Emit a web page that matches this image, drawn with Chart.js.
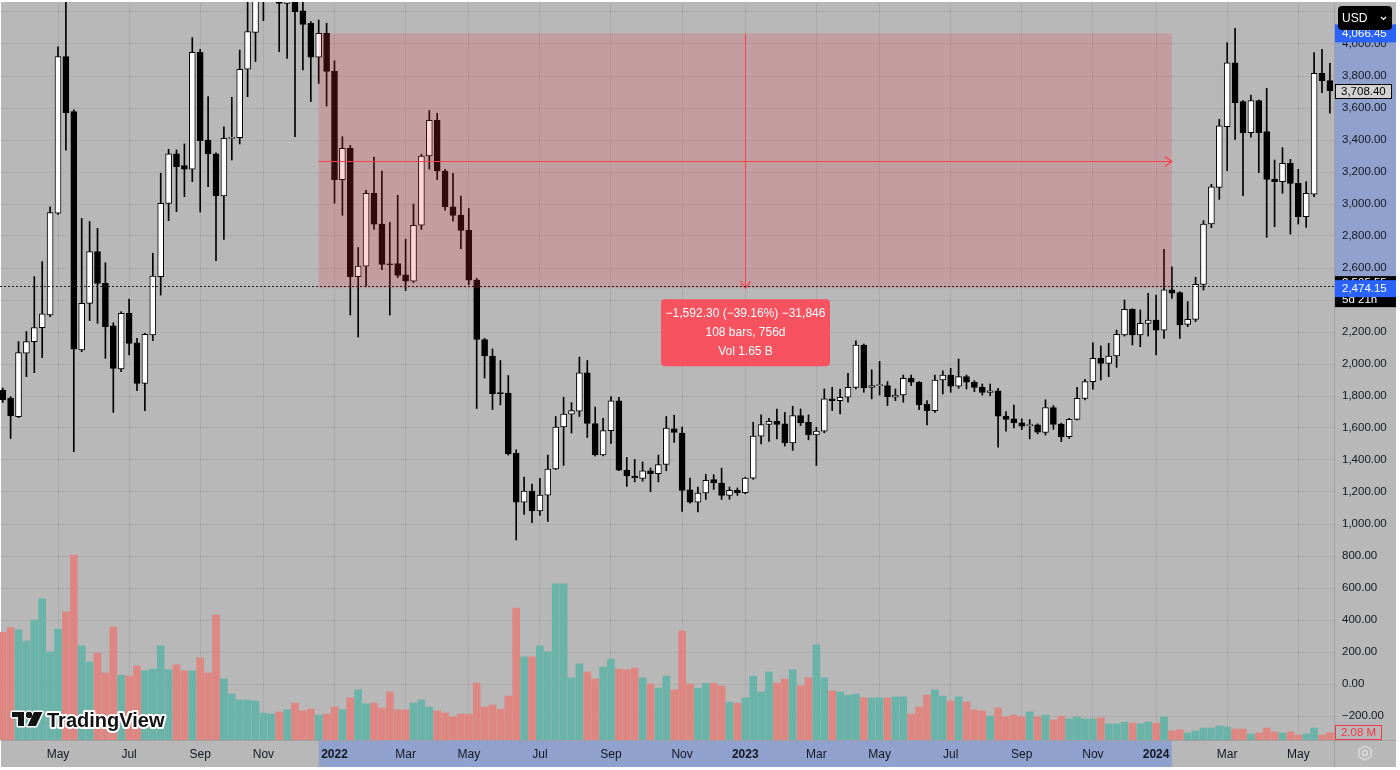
<!DOCTYPE html>
<html>
<head>
<meta charset="utf-8">
<style>
  html, body { margin: 0; padding: 0; background: #ffffff; overflow: hidden; }
  #wrap { width: 1400px; height: 770px; }
</style>
<script src="https://cdn.jsdelivr.net/npm/chart.js@4.4.1/dist/chart.umd.min.js"></script>
</head>
<body>
<div id="wrap"><canvas id="chart" width="1400" height="770"></canvas></div>
<script>
// weekly ETH candles (bar 0 = week of 15 Mar 2021)
const openP = [
  1837, 1785, 1671, 2067, 2140, 2227, 2306, 2942, 3921, 3577, 2088, 2379,
  2702, 2504, 2238, 1969, 2317, 2133, 1879, 2181, 2546, 3004, 3313, 3240,
  3217, 3948, 3400, 3313, 3050, 3410, 3415, 3842, 4073, 4290, 4610, 4640,
  4254, 4440, 4208, 4129, 3917, 4066, 3829, 3152, 3348, 2546, 2612, 3066,
  2874, 2623, 2627, 2557, 2518, 2867, 3300, 3523, 3206, 2983, 2929, 2835,
  2524, 2153, 2050, 1818, 1818, 1442, 1136, 1206, 1081, 1180, 1344, 1606,
  1687, 1705, 1945, 1628, 1431, 1584, 1770, 1337, 1300, 1285, 1333, 1315,
  1372, 1595, 1568, 1214, 1137, 1194, 1277, 1256, 1179, 1210, 1196, 1287,
  1549, 1622, 1642, 1626, 1507, 1678, 1636, 1557, 1580, 1782, 1771, 1792,
  1854, 2118, 1854, 1865, 1865, 1792, 1806, 1910, 1886, 1750, 1709, 1900,
  1931, 1861, 1921, 1886, 1854, 1823, 1833, 1674, 1657, 1632, 1615, 1620,
  1572, 1727, 1625, 1546, 1654, 1785, 1890, 2035, 2004, 2050, 2181, 2342,
  2181, 2254, 2275, 2212, 2463, 2446, 2248, 2279, 2498, 2875, 3104, 3483,
  3883, 3640, 3446, 3646, 3452, 3154, 3140, 3254, 3129, 2921, 3062, 3817,
  3771
];
const highP = [
  1850, 1796, 2140, 2202, 2546, 2640, 2983, 3983, 4380, 3588, 2910, 2890,
  2848, 2633, 2258, 2327, 2406, 2160, 2192, 2692, 3192, 3342, 3338, 3375,
  4040, 3967, 3671, 3320, 3483, 3667, 3962, 4300, 4380, 4660, 4870, 4770,
  4560, 4650, 4400, 4140, 4150, 4130, 3895, 3421, 3366, 2728, 3086, 3294,
  3206, 2885, 3055, 2780, 2999, 3311, 3584, 3567, 3217, 3191, 3049, 2972,
  2535, 2160, 2094, 2022, 1928, 1464, 1294, 1250, 1285, 1431, 1672, 1792,
  1759, 2043, 2022, 1731, 1661, 1796, 1792, 1416, 1403, 1388, 1350, 1431,
  1672, 1680, 1605, 1287, 1231, 1310, 1308, 1349, 1231, 1225, 1293, 1636,
  1682, 1661, 1719, 1698, 1736, 1719, 1682, 1605, 1844, 1854, 1844, 1942,
  2145, 2125, 1964, 2016, 1890, 1844, 1931, 1931, 1890, 1771, 1931, 1958,
  1973, 2031, 1931, 1896, 1875, 1875, 1848, 1703, 1744, 1657, 1653, 1626,
  1776, 1740, 1630, 1660, 1854, 1904, 2133, 2113, 2129, 2212, 2400, 2345,
  2338, 2442, 2431, 2717, 2608, 2452, 2390, 2542, 2896, 3123, 3529, 4008,
  4098, 3646, 3681, 3650, 3723, 3275, 3352, 3279, 3217, 3140, 3946, 3967,
  3879
];
const lowP = [
  1760, 1535, 1665, 1921, 1946, 2040, 2296, 2935, 3337, 1452, 2077, 2271,
  2254, 2036, 1698, 1952, 2056, 1833, 1708, 2146, 2431, 2896, 2952, 3046,
  3140, 2950, 3108, 2646, 2779, 3275, 3375, 3671, 3890, 4146, 4510, 3952,
  3910, 3421, 3838, 3640, 3754, 3612, 3005, 2929, 2306, 2168, 2487, 2841,
  2590, 2306, 2540, 2459, 2509, 2841, 3217, 3152, 2961, 2892, 2721, 2496,
  1722, 1912, 1715, 1744, 1431, 900, 1060, 1009, 1053, 1016, 1340, 1366,
  1569, 1672, 1541, 1425, 1425, 1503, 1333, 1235, 1263, 1267, 1202, 1263,
  1333, 1510, 1079, 1130, 1075, 1154, 1216, 1154, 1154, 1179, 1189, 1279,
  1501, 1516, 1532, 1487, 1460, 1615, 1526, 1366, 1570, 1709, 1688, 1761,
  1844, 1823, 1782, 1806, 1740, 1771, 1761, 1865, 1715, 1620, 1698, 1813,
  1823, 1848, 1844, 1827, 1806, 1802, 1480, 1580, 1601, 1590, 1532, 1563,
  1556, 1592, 1515, 1535, 1650, 1775, 1842, 1900, 1921, 1979, 2175, 2119,
  2108, 2175, 2056, 2160, 2410, 2160, 2233, 2265, 2462, 2852, 3029, 3208,
  3404, 3052, 3417, 3196, 2792, 2858, 3067, 2812, 2875, 2854, 3046, 3696,
  3567
];
const closeP = [
  1775, 1675, 2071, 2140, 2227, 2313, 2946, 3921, 3571, 2092, 2379, 2702,
  2504, 2233, 1973, 2317, 2129, 1879, 2186, 2550, 3004, 3313, 3233, 3217,
  3948, 3396, 3313, 3050, 3410, 3415, 3842, 4077, 4290, 4610, 4640, 4254,
  4440, 4202, 4123, 3917, 4066, 3829, 3152, 3348, 2546, 2612, 3066, 2874,
  2623, 2620, 2553, 2518, 2867, 3300, 3523, 3206, 2983, 2929, 2835, 2524,
  2153, 2050, 1814, 1815, 1438, 1136, 1206, 1081, 1180, 1344, 1606, 1687,
  1709, 1945, 1628, 1431, 1584, 1770, 1337, 1300, 1289, 1333, 1315, 1372,
  1600, 1573, 1210, 1137, 1194, 1273, 1256, 1179, 1210, 1196, 1287, 1549,
  1622, 1642, 1622, 1507, 1678, 1632, 1557, 1580, 1782, 1771, 1792, 1854,
  2118, 1850, 1865, 1866, 1796, 1806, 1910, 1886, 1744, 1709, 1900, 1931,
  1861, 1921, 1886, 1854, 1823, 1833, 1674, 1653, 1632, 1611, 1620, 1574,
  1727, 1622, 1546, 1654, 1785, 1890, 2035, 2004, 2050, 2185, 2342, 2181,
  2254, 2275, 2212, 2463, 2442, 2244, 2279, 2498, 2875, 3108, 3488, 3883,
  3633, 3446, 3646, 3446, 3154, 3140, 3254, 3129, 2921, 3067, 3817, 3771,
  3708.4
];
// weekly volume, millions
const volumeM = [
  30.7, 32.0, 31.4, 28.2, 34.2, 40.2, 25.1, 31.6, 36.5, 52.7, 26.8, 22.2,
  24.8, 19.1, 32.2, 18.5, 18.2, 21.1, 19.7, 20.2, 26.8, 20.0, 21.4, 19.7,
  19.7, 23.4, 19.1, 35.6, 17.4, 13.1, 11.4, 11.4, 11.1, 7.7, 7.4, 8.0,
  8.6, 10.5, 8.3, 8.8, 7.1, 7.4, 9.4, 8.6, 12.0, 14.3, 10.3, 10.5,
  9.1, 13.7, 8.6, 8.6, 10.5, 11.4, 9.4, 8.3, 7.7, 6.6, 7.4, 7.4,
  16.2, 9.4, 10.0, 8.8, 12.5, 37.6, 23.7, 23.7, 26.8, 25.1, 44.5, 44.5,
  17.7, 21.7, 19.4, 17.4, 20.8, 23.1, 20.2, 20.0, 20.5, 17.7, 16.0, 14.8,
  18.2, 14.3, 31.1, 16.0, 14.8, 16.2, 16.2, 15.4, 10.8, 10.5, 12.0, 18.2,
  13.7, 19.4, 16.2, 17.4, 20.0, 15.4, 17.7, 27.1, 17.7, 14.0, 13.7, 12.8,
  13.1, 12.0, 12.0, 12.0, 12.0, 12.3, 12.3, 7.4, 9.4, 12.8, 14.3, 12.5,
  11.1, 12.3, 10.8, 8.6, 8.3, 6.8, 9.1, 6.6, 7.1, 6.6, 8.0, 6.6,
  7.1, 5.7, 6.8, 6.0, 6.6, 6.0, 6.0, 6.3, 4.6, 4.6, 5.1, 4.8,
  4.6, 5.1, 4.8, 6.6, 2.6, 2.9, 2.0, 2.6, 3.4, 3.4, 4.0, 3.7,
  3.1, 3.1, 1.7, 2.0, 3.4, 2.3, 2.0, 2.3, 1.4, 1.7, 3.4, 1.4,
  2.08
];

// time axis labels sit on the first bar of the month
const monthBars = [7, 16, 25, 33, 42, 51, 59, 68, 77, 86, 94, 103, 111, 120, 129, 138, 146, 155, 164];
const monthLabels = ['May', 'Jul', 'Sep', 'Nov', '2022', 'Mar', 'May', 'Jul', 'Sep', 'Nov',
                     '2023', 'Mar', 'May', 'Jul', 'Sep', 'Nov', '2024', 'Mar', 'May'];
const priceTicks = [-200, 0, 200, 400, 600, 800, 1000, 1200, 1400, 1600, 1800, 2000, 2200,
                    2400, 2600, 2800, 3000, 3200, 3400, 3600, 3800, 4000, 4200];

// price range measure drawn on the chart
const measureFrom = 40;
const measureTo = 148;
const measureTop = 4066.45;
const measureBottom = 2474.15;
const measureText = ['\u22121,592.30 (\u221239.16%) \u221231,846', '108 bars, 756d', 'Vol 1.65 B'];
const crossPrice = 2487;
const lastPrice = 3708.4;
const lastVolume = '2.08 M';

const FONT = '"Liberation Sans", Arial, sans-serif';
const BG = '#b8b8b8';
const BAND = '#8fa1cc';
const UP_VOL = '#6ab3a9';
const DN_VOL = '#de8782';

Chart.defaults.font.family = FONT;

const isUp = (i) => closeP[i] >= openP[i];

const fmtPrice = (v) => {
  const s = Math.abs(v).toLocaleString('en-US', { minimumFractionDigits: 2, maximumFractionDigits: 2 });
  return v < 0 ? '\u2212' + s : s;
};

function roundBox(ctx, x, y, w, h, r) {
  ctx.beginPath();
  if (ctx.roundRect) ctx.roundRect(x, y, w, h, r);
  else ctx.rect(x, y, w, h);
}

const tvPlugin = {
  id: 'tvLook',
  beforeDraw(chart) {
    const { ctx, chartArea: a, scales: { x, y } } = chart;
    ctx.save();
    ctx.fillStyle = '#ffffff';
    ctx.fillRect(0, 0, chart.width, chart.height);
    ctx.fillStyle = BG;
    ctx.fillRect(1, 2, a.right + 62 - 1, a.bottom + 27 - 2);

    // highlighted ranges on both axes
    const yt = y.getPixelForValue(measureTop);
    const yb = y.getPixelForValue(measureBottom);
    const x0 = x.getPixelForValue(measureFrom);
    const x1 = x.getPixelForValue(measureTo);
    ctx.fillStyle = BAND;
    ctx.fillRect(a.right + 1, yt, 61, yb - yt);
    ctx.fillRect(x0, a.bottom + 1, x1 - x0, 26);

    ctx.strokeStyle = 'rgba(0,0,0,0.13)';
    ctx.lineWidth = 1;
    ctx.beginPath();
    ctx.moveTo(a.right + 0.5, 2);
    ctx.lineTo(a.right + 0.5, a.bottom + 27);
    ctx.moveTo(1, a.bottom + 0.5);
    ctx.lineTo(a.right + 62, a.bottom + 0.5);
    ctx.stroke();
    ctx.restore();
  },
  afterDatasetsDraw(chart) {
    const { ctx, chartArea: a, scales: { x, y } } = chart;
    const x0 = x.getPixelForValue(measureFrom);
    const x1 = x.getPixelForValue(measureTo);
    const y0 = y.getPixelForValue(measureTop);
    const y1 = y.getPixelForValue(measureBottom);
    ctx.save();
    ctx.beginPath();
    ctx.rect(a.left, a.top, a.right - a.left, a.bottom - a.top);
    ctx.clip();

    ctx.fillStyle = 'rgba(242,54,69,0.2)';
    ctx.fillRect(x0, y0, x1 - x0, y1 - y0);

    const ym = Math.round((y0 + y1) / 2);
    const xm = Math.round((x0 + x1) / 2);
    ctx.fillStyle = '#f7414f';
    ctx.fillRect(x0, ym, x1 - x0, 1);
    ctx.fillRect(xm, y0, 1, y1 - y0);
    ctx.strokeStyle = '#f7414f';
    ctx.lineWidth = 1.2;
    ctx.beginPath();
    ctx.moveTo(x1 - 7, ym - 4.5); ctx.lineTo(x1, ym + 0.5); ctx.lineTo(x1 - 7, ym + 5.5);
    ctx.moveTo(xm - 4.5, y1 - 7); ctx.lineTo(xm + 0.5, y1); ctx.lineTo(xm + 5.5, y1 - 7);
    ctx.stroke();

    // horizontal crosshair
    const yc = Math.round(y.getPixelForValue(crossPrice)) + 0.5;
    ctx.strokeStyle = '#1c1c1c';
    ctx.lineWidth = 1;
    ctx.setLineDash([2, 2]);
    ctx.beginPath();
    ctx.moveTo(a.left, yc); ctx.lineTo(a.right, yc);
    ctx.stroke();
    ctx.setLineDash([]);

    // info box under the measure
    const bw = 169, bh = 67;
    const bx = xm + 0.5 - bw / 2, by = y1 + 11;
    ctx.fillStyle = '#f7525f';
    roundBox(ctx, bx, by, bw, bh, 4);
    ctx.fill();
    ctx.fillStyle = '#ffffff';
    ctx.font = '12px ' + FONT;
    ctx.textAlign = 'center';
    ctx.textBaseline = 'middle';
    measureText.forEach((t, k) => ctx.fillText(t, xm + 0.5, by + 14.5 + k * 19));
    ctx.restore();
  },
  afterDraw(chart) {
    const { ctx, chartArea: a, scales: { y } } = chart;
    const L = a.right + 1;
    ctx.save();
    ctx.font = '11.5px ' + FONT;
    ctx.textBaseline = 'middle';
    ctx.textAlign = 'left';

    // countdown box + measure end label
    const yb = y.getPixelForValue(measureBottom);
    ctx.fillStyle = '#000000';
    ctx.fillRect(L, yb - 12, 61, 31);
    ctx.fillStyle = '#ffffff';
    ctx.fillText('2,505.55', L + 7, yb - 5);
    ctx.fillText('5d 21h', L + 7, yb + 12);
    ctx.fillStyle = '#2962ff';
    ctx.fillRect(L, yb - 8, 61, 17);
    ctx.fillStyle = '#ffffff';
    ctx.fillText(fmtPrice(measureBottom), L + 7, yb + 0.5);

    // measure start label
    const yt = y.getPixelForValue(measureTop);
    ctx.fillStyle = '#2962ff';
    ctx.fillRect(L, yt - 9, 61, 18);
    ctx.fillStyle = '#ffffff';
    ctx.fillText(fmtPrice(measureTop), L + 7, yt);

    // currency button
    ctx.fillStyle = '#000000';
    roundBox(ctx, L + 3, 6, 54, 24, 4);
    ctx.fill();
    ctx.fillStyle = '#ffffff';
    ctx.font = '12px ' + FONT;
    ctx.fillText('USD', L + 7, 18.5);
    ctx.strokeStyle = '#ffffff';
    ctx.lineWidth = 1.2;
    ctx.beginPath();
    ctx.moveTo(L + 46, 17); ctx.lineTo(L + 48.5, 19.5); ctx.lineTo(L + 51, 17);
    ctx.stroke();

    // last price
    const yl = Math.round(y.getPixelForValue(lastPrice));
    ctx.fillStyle = '#d2d2d2';
    ctx.fillRect(L + 0.5, yl - 6.5, 56, 14);
    ctx.strokeStyle = '#000000';
    ctx.lineWidth = 1;
    ctx.strokeRect(L + 0.5, yl - 6.5, 56, 14);
    ctx.fillStyle = '#000000';
    ctx.font = '11.5px ' + FONT;
    ctx.fillText(fmtPrice(lastPrice), L + 6, yl + 0.5);

    // last volume
    ctx.strokeStyle = '#f23645';
    ctx.strokeRect(L + 0.5, a.bottom - 14.5, 46, 14);
    ctx.fillStyle = '#f23645';
    ctx.textAlign = 'center';
    ctx.fillText(lastVolume, L + 23.5, a.bottom - 7);

    // settings icon
    const gx = L + 30, gy = a.bottom + 13;
    ctx.strokeStyle = '#dcdcdc';
    ctx.lineWidth = 1.4;
    ctx.beginPath();
    for (let k = 0; k < 6; k++) {
      const ang = Math.PI / 6 + k * Math.PI / 3;
      const px = gx + 7 * Math.cos(ang), py = gy + 7 * Math.sin(ang);
      if (k === 0) ctx.moveTo(px, py); else ctx.lineTo(px, py);
    }
    ctx.closePath();
    ctx.stroke();
    ctx.beginPath();
    ctx.arc(gx, gy, 2.5, 0, Math.PI * 2);
    ctx.stroke();

    // watermark logo
    ctx.lineJoin = 'round';
    const logo = new Path2D();
    logo.rect(12, 712, 12, 5);
    logo.rect(18, 712, 6, 14);
    logo.moveTo(34, 712); logo.lineTo(42.5, 712); logo.lineTo(36, 726); logo.lineTo(27.5, 726); logo.closePath();
    const dot = new Path2D();
    dot.arc(29, 715, 3.2, 0, Math.PI * 2);
    ctx.strokeStyle = '#ffffff';
    ctx.lineWidth = 3;
    ctx.stroke(logo);
    ctx.stroke(dot);
    ctx.fillStyle = '#131313';
    ctx.fill(logo);
    ctx.fill(dot);
    ctx.font = 'bold 20px ' + FONT;
    ctx.textAlign = 'left';
    ctx.textBaseline = 'alphabetic';
    ctx.lineWidth = 4;
    ctx.strokeText('TradingView', 47, 727);
    ctx.fillText('TradingView', 47, 727);
    ctx.restore();
  }
};

const bars = openP.map((o, i) => i);

const wickData = bars.map(i => ({ x: i, y: [lowP[i], highP[i]] }));
const bodyData = bars.map(i => ({ x: i, y: [openP[i], closeP[i]] }));
const volData = bars.map(i => ({ x: i, y: volumeM[i] }));

const config = {
  type: 'bar',
  data: {
    datasets: [
      {
        label: 'Volume',
        data: volData,
        yAxisID: 'yv',
        backgroundColor: (c) => isUp(c.dataIndex) ? UP_VOL : DN_VOL,
        barThickness: 7,
        grouped: false,
        clip: 0,
        order: 3
      },
      {
        label: 'Wick',
        data: wickData,
        yAxisID: 'y',
        backgroundColor: '#000000',
        barThickness: 1,
        grouped: false,
        clip: 0,
        order: 2
      },
      {
        label: 'Body',
        data: bodyData,
        yAxisID: 'y',
        backgroundColor: (c) => isUp(c.dataIndex) ? '#ffffff' : '#000000',
        borderColor: '#000000',
        borderWidth: 1,
        borderSkipped: false,
        minBarLength: 1,
        barThickness: 6,
        grouped: false,
        clip: 0,
        order: 1
      }
    ]
  },
  options: {
    responsive: false,
    animation: false,
    events: [],
    layout: { padding: { top: 2, right: 4, bottom: 3, left: 0 } },
    plugins: { legend: { display: false }, tooltip: { enabled: false } },
    scales: {
      x: {
        type: 'linear',
        min: -0.342,
        max: 168.52,
        offset: false,
        afterBuildTicks: (s) => { s.ticks = monthBars.map(v => ({ value: v })); },
        afterFit: (s) => { s.height = 27; s.paddingLeft = 0; s.paddingRight = 0; },
        grid: { color: 'rgba(0,0,0,0.07)', drawTicks: false, offset: false },
        border: { display: false },
        ticks: {
          autoSkip: false,
          maxRotation: 0,
          padding: 7,
          color: '#131722',
          font: (c) => ({ size: 12, weight: /^\d{4}$/.test(monthLabels[c.index] || '') ? 'bold' : 'normal' }),
          callback: (v, i) => monthLabels[i]
        }
      },
      y: {
        type: 'linear',
        position: 'right',
        min: -350,
        max: 4262.5,
        afterBuildTicks: (s) => { s.ticks = priceTicks.map(v => ({ value: v })); },
        afterFit: (s) => { s.width = 62; s.paddingTop = 0; s.paddingBottom = 0; },
        grid: { color: 'rgba(0,0,0,0.07)', drawTicks: false },
        border: { display: false },
        ticks: {
          padding: 8,
          color: '#131722',
          font: { size: 11.5 },
          callback: (v) => v > 4000 ? '' : fmtPrice(v)
        }
      },
      yv: {
        type: 'linear',
        display: false,
        min: 0,
        max: 210.3
      }
    }
  },
  plugins: [tvPlugin]
};

const myChart = new Chart(document.getElementById('chart'), config);
</script>
</body>
</html>
